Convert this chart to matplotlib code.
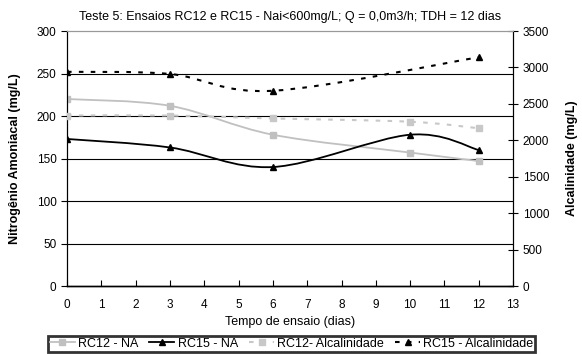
import matplotlib
matplotlib.use("Agg")
import matplotlib.pyplot as plt
from matplotlib.path import Path
from matplotlib.patches import PathPatch
from matplotlib.lines import Line2D

plt.rcParams['font.family'] = ['Liberation Sans', 'DejaVu Sans']

# Data
days_na = [0, 3, 6, 10, 12]
rc12_na = [220, 212, 178, 157, 147]
rc15_na = [173, 163, 140, 178, 160]
days_rc12_alk = [0, 3, 6, 10, 12]
rc12_alk = [2340, 2340, 2300, 2255, 2165]
days_rc15_alk = [0, 3, 6, 12]
rc15_alk = [2940, 2910, 2680, 3140]

title = "Teste 5: Ensaios RC12 e RC15 - Nai<600mg/L; Q = 0,0m3/h; TDH = 12 dias"
xlabel = "Tempo de ensaio (dias)"
ylabel_left = "Nitrogênio Amoniacal (mg/L)"
ylabel_right = "Alcalinidade (mg/L)"
labels = ["RC12 - NA", "RC15 - NA", "RC12- Alcalinidade", "RC15 - Alcalinidade"]


def smooth_path(xs, ys):
    pts = list(zip(xs, ys))
    n = len(pts)
    verts = [pts[0]]
    codes = [Path.MOVETO]
    for i in range(n - 1):
        p0 = pts[i - 1] if i > 0 else pts[i]
        p1 = pts[i]
        p2 = pts[i + 1]
        p3 = pts[i + 2] if i + 2 < n else pts[i + 1]
        c1 = (p1[0] + (p2[0] - p0[0]) / 6.0, p1[1] + (p2[1] - p0[1]) / 6.0)
        c2 = (p2[0] - (p3[0] - p1[0]) / 6.0, p2[1] - (p3[1] - p1[1]) / 6.0)
        verts += [c1, c2, p2]
        codes += [Path.CURVE4, Path.CURVE4, Path.CURVE4]
    return Path(verts, codes)


fig = plt.figure(figsize=(5.82, 3.54), dpi=100)
ax = fig.add_axes([0.1151, 0.192, 0.7665, 0.7204])
ax2 = ax.twinx()

c_rc12 = '#c0c0c0'
c_rc12a = '#c8c8c8'
dash = (0, (2.2, 3.5))

styles = [
    dict(ax=ax, x=days_na, y=rc12_na, color=c_rc12, ls='-', lw=1.3, marker='s', ms=4.5),
    dict(ax=ax, x=days_na, y=rc15_na, color='black', ls='-', lw=1.3, marker='^', ms=5),
    dict(ax=ax2, x=days_rc12_alk, y=rc12_alk, color=c_rc12a, ls=dash, lw=1.5, marker='s', ms=4.5),
    dict(ax=ax2, x=days_rc15_alk, y=rc15_alk, color='black', ls=dash, lw=1.5, marker='^', ms=5),
]

handles = []
for s, lab in zip(styles, labels):
    a = s['ax']
    patch = PathPatch(smooth_path(s['x'], s['y']), facecolor='none', edgecolor=s['color'],
                      lw=s['lw'], linestyle=s['ls'], zorder=3)
    a.add_patch(patch)
    a.plot(s['x'], s['y'], ls='none', marker=s['marker'], ms=s['ms'], color=s['color'],
           mec=s['color'], zorder=4)
    handles.append(Line2D([], [], color=s['color'], ls=s['ls'], lw=s['lw'],
                          marker=s['marker'], ms=s['ms'] - 0.5, mec=s['color']))

ax.set_xlim(0, 13)
ax.set_ylim(0, 300)
ax2.set_ylim(0, 3500)
ax.set_xticks(range(0, 14))
ax.set_yticks(range(0, 301, 50))
ax2.set_yticks(range(0, 3501, 500))

for v in range(50, 300, 50):
    ax.axhline(v, color='black', lw=0.8, zorder=1)

for a in (ax, ax2):
    a.spines['top'].set_color('#999999')
    a.spines['left'].set_color('black')
    a.spines['right'].set_color('black')
    a.spines['bottom'].set_color('black')
    a.spines['bottom'].set_linewidth(1.0)

ax.tick_params(axis='x', direction='in', length=4, labelsize=8.5, pad=9)
ax.tick_params(axis='y', direction='out', length=4, labelsize=8.5)
ax2.tick_params(axis='y', direction='inout', length=7, labelsize=8.5)

ax.set_title(title, fontsize=9, pad=8)
ax.set_xlabel(xlabel, fontsize=9, labelpad=4)
ax.set_ylabel(ylabel_left, fontsize=9, fontweight='bold', labelpad=11)
ax2.set_ylabel(ylabel_right, fontsize=9, fontweight='bold', labelpad=12)

leg = fig.legend(handles, labels, loc='lower center', bbox_to_anchor=(0.501, 0.003), ncol=4,
                 fontsize=9, frameon=True, fancybox=False, handlelength=2.0,
                 handletextpad=0.25, columnspacing=0.9, borderpad=0.15, borderaxespad=0.1)
leg.get_frame().set_edgecolor('black')
leg.get_frame().set_linewidth(2.0)

fig.savefig('out.png', dpi=100)
